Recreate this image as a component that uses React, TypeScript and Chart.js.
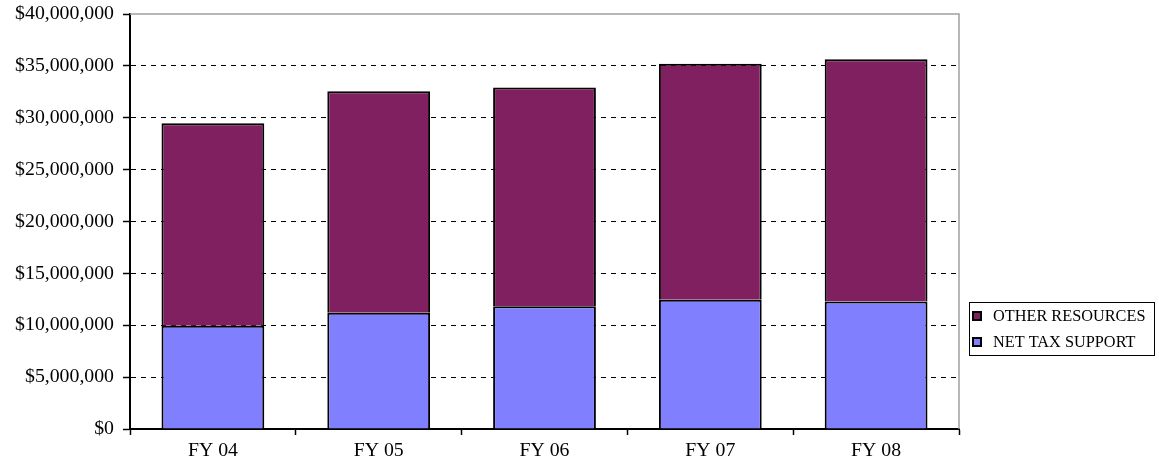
import React, { useEffect, useRef } from "react";
import { Chart, registerables } from "chart.js";

Chart.register(...registerables);

const categories = ["FY 04", "FY 05", "FY 06", "FY 07", "FY 08"];
const netTaxSupport = [9960000, 11210000, 11820000, 12460000, 12300000];
const otherResources = [19510000, 21350000, 21100000, 22740000, 23350000];
const seriesNames = ["NET TAX SUPPORT", "OTHER RESOURCES"];
const seriesColors = ["#8080FF", "#802060"];
const yMax = 40000000;
const yStep = 5000000;

const FONT = "'Liberation Serif', 'Times New Roman', serif";

const frameAndLegend = {
  id: "frameAndLegend",
  beforeDatasetsDraw(chart: any) {
    const { ctx, chartArea } = chart;
    ctx.save();
    ctx.strokeStyle = "#a0a0a0";
    ctx.lineWidth = 1.5;
    ctx.beginPath();
    ctx.moveTo(chartArea.left, chartArea.top);
    ctx.lineTo(chartArea.right, chartArea.top);
    ctx.lineTo(chartArea.right, chartArea.bottom);
    ctx.stroke();
    ctx.restore();
  },
  afterDraw(chart: any) {
    const { ctx } = chart;
    const x0 = 969.5, y0 = 302.5, w = 185, h = 53;
    ctx.save();
    ctx.strokeStyle = "#000";
    ctx.lineWidth = 1;
    ctx.strokeRect(x0, y0, w, h);
    const items = [
      { label: seriesNames[1], color: seriesColors[1], cy: 316 },
      { label: seriesNames[0], color: seriesColors[0], cy: 342 },
    ];
    ctx.font = `16.3px ${FONT}`;
    ctx.textBaseline = "middle";
    ctx.textAlign = "left";
    for (const it of items) {
      ctx.fillStyle = it.color;
      ctx.fillRect(973, it.cy - 4, 8, 8);
      ctx.strokeStyle = "#000";
      ctx.lineWidth = 2;
      ctx.strokeRect(973, it.cy - 4, 8, 8);
      ctx.fillStyle = "#000";
      ctx.fillText(it.label, 993, it.cy + 1);
    }
    ctx.restore();
  },
};

export default function App() {
  const ref = useRef<HTMLCanvasElement | null>(null);
  useEffect(() => {
    if (!ref.current) return;
    const chart = new Chart(ref.current, {
      type: "bar",
      data: {
        labels: categories,
        datasets: [
          {
            label: seriesNames[0],
            data: netTaxSupport,
            backgroundColor: seriesColors[0],
            borderColor: "#000",
            borderWidth: 2,
            barPercentage: 0.62,
            categoryPercentage: 1,
          },
          {
            label: seriesNames[1],
            data: otherResources,
            backgroundColor: seriesColors[1],
            borderColor: "#000",
            borderWidth: 2,
            barPercentage: 0.62,
            categoryPercentage: 1,
          },
        ],
      },
      options: {
        animation: false,
        responsive: false,
        maintainAspectRatio: false,
        layout: { padding: { top: 14, right: 200, left: 0, bottom: 0 } },
        plugins: {
          legend: { display: false },
          tooltip: { enabled: false },
        },
        scales: {
          x: {
            stacked: true,
            offset: true,
            grid: {
              offset: true,
              drawOnChartArea: false,
              drawTicks: true,
              tickLength: 6,
              tickColor: "#000",
              tickWidth: 1.5,
            },
            border: { color: "#000", width: 2 },
            ticks: {
              color: "#000",
              font: { family: FONT, size: 19.8 },
              padding: 4,
              maxRotation: 0,
            },
            afterFit: (s: any) => {
              s.height = 36;
              s.paddingLeft = 0;
              s.paddingRight = 0;
            },
          },
          y: {
            stacked: true,
            min: 0,
            max: yMax,
            grid: {
              color: (c: any) =>
                c.tick && (c.tick.value === yMax || c.tick.value === 0) ? "rgba(0,0,0,0)" : "#000",
              lineWidth: 1,
              drawTicks: true,
              tickLength: 7,
              tickColor: "#000",
              tickWidth: 1.5,
              tickBorderDash: [],
            },
            border: { color: "#000", width: 2, dash: [5, 5] },
            ticks: {
              stepSize: yStep,
              color: "#000",
              font: { family: FONT, size: 19.8 },
              padding: 9,
              callback: (v: any) => "$" + Number(v).toLocaleString("en-US"),
            },
            afterFit: (s: any) => {
              s.width = 130;
              s.paddingTop = 0;
              s.paddingBottom = 0;
            },
          },
        },
      },
      plugins: [frameAndLegend],
    });
    return () => chart.destroy();
  }, []);
  return (
    <div style={{ position: "absolute", left: 0, top: 0, width: 1159, height: 465, background: "#fff" }}>
      <canvas ref={ref} width={1159} height={465} />
    </div>
  );
}
